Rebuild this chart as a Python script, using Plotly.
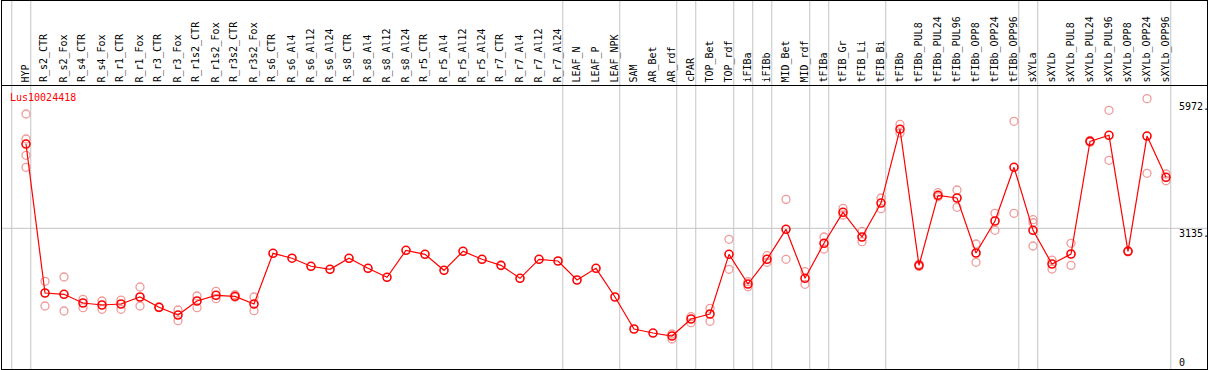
import plotly.graph_objects as go

gene = "Lus10024418"

categories = [
    "HYP", "R_s2_CTR", "R_s2_Fox", "R_s4_CTR", "R_s4_Fox", "R_r1_CTR", "R_r1_Fox",
    "R_r3_CTR", "R_r3_Fox", "R_r1s2_CTR", "R_r1s2_Fox", "R_r3s2_CTR", "R_r3s2_Fox",
    "R_s6_CTR", "R_s6_Al4", "R_s6_Al12", "R_s6_Al24", "R_s8_CTR", "R_s8_Al4",
    "R_s8_Al12", "R_s8_Al24", "R_r5_CTR", "R_r5_Al4", "R_r5_Al12", "R_r5_Al24",
    "R_r7_CTR", "R_r7_Al4", "R_r7_Al12", "R_r7_Al24", "LEAF_N", "LEAF_P", "LEAF_NPK",
    "SAM", "AR_Bet", "AR_rdf", "cPAR", "TOP_Bet", "TOP_rdf", "iFIBa", "iFIBb",
    "MID_Bet", "MID_rdf", "tFIBa", "tFIB_Gr", "tFIB_Li", "tFIB_Bi", "tFIBb",
    "tFIBb_PUL8", "tFIBb_PUL24", "tFIBb_PUL96", "tFIBb_OPP8", "tFIBb_OPP24", "tFIBb_OPP96",
    "sXYLa", "sXYLb", "sXYLb_PUL8", "sXYLb_PUL24", "sXYLb_PUL96", "sXYLb_OPP8",
    "sXYLb_OPP24", "sXYLb_OPP96",
]

means = [
    4979, 1720, 1691, 1501, 1457, 1479, 1632, 1407, 1238, 1545, 1669, 1647, 1479,
    2588, 2481, 2304, 2238, 2479, 2260, 2063, 2654, 2566, 2216, 2632, 2457,
    2325, 2041, 2457, 2420, 2004, 2260, 1632,
    932, 844, 779, 1151, 1260, 2566, 1916, 2457, 3113, 2041, 2807, 3485, 2945, 3688,
    5303, 2325, 3857, 3798, 2595, 3295, 4470,
    3091, 2354, 2573, 5038, 5170, 2632, 5154, 4251,
]

replicates = [
    [5636, 5089, 4732, 4470], [1975, 1435], [2070, 1326], [1582, 1398], [1545, 1363],
    [1566, 1363], [1851, 1435], [1400, 1414], [1348, 1114], [1654, 1398], [1757, 1595],
    [1682, 1625], [1632, 1332],
    [], [], [], [], [], [], [], [], [], [], [], [], [], [], [], [], [], [], [],
    [], [], [823, 713], [1201, 1070], [1385, 1100], [2894, 2238], [1967, 1857],
    [2536, 2391], [3769, 2457], [2186, 1910], [2945, 2682], [3573, 3426], [3069, 2842],
    [3798, 3564], [5410, 5220], [2300, 2350], [3914, 3826], [3973, 3594], [2792, 2391],
    [3463, 3091], [5476, 3463],
    [3323, 3257, 2748], [2441, 2245], [2807, 2325], [5020, 5056], [5717, 4623],
    [2620, 2645], [5972, 4338], [4323, 4176],
]

group_ends = ["HYP", "R_r7_Al24", "LEAF_NPK", "AR_rdf", "cPAR", "TOP_rdf", "iFIBa",
              "iFIBb", "MID_rdf", "tFIBa", "tFIB_Bi", "tFIBb_OPP96", "sXYLa", "sXYLb_OPP96"]

y_max = 5972
y_top = y_max * 1.05
y_mid = y_top / 2

# ---- layout geometry (pixels) ----
W, H = 1209, 370
X0, DX = 26.0, 19.0          # pixel of first category, spacing
Y_TOP_PX, Y_ZERO_PX = 85.0, 371.6
upp = y_top / (Y_ZERO_PX - Y_TOP_PX)   # value units per pixel


def px_x(p):
    return (p - X0) / DX


def px_y(p):
    return (Y_ZERO_PX - p) * upp


xs = list(range(len(categories)))
rep_x, rep_y = [], []
for i, reps in enumerate(replicates):
    for v in reps:
        rep_x.append(i)
        rep_y.append(v)

fig = go.Figure()
fig.add_trace(go.Scatter(
    x=rep_x, y=rep_y, mode="markers",
    marker=dict(symbol="circle-open", size=8, color="#f09a9a", line=dict(width=1.3)),
    hoverinfo="skip", showlegend=False,
))
fig.add_trace(go.Scatter(
    x=xs, y=means, mode="lines+markers",
    line=dict(color="#ff0000", width=1.2),
    marker=dict(symbol="circle-open", size=8, color="#ff0000", line=dict(width=1.6)),
    hoverinfo="skip", showlegend=False,
))

shapes = []
grey = "#c4c4c4"
# vertical group separators
sep_idx = [-1] + [categories.index(c) for c in group_ends]
for k in sep_idx:
    shapes.append(dict(type="line", xref="x", yref="y", x0=k + 0.25, x1=k + 0.25,
                       y0=px_y(0), y1=px_y(369), line=dict(color=grey, width=1), layer="below"))
# mid gridline
shapes.append(dict(type="line", xref="x", yref="y", x0=px_x(1), x1=px_x(1208),
                   y0=y_mid, y1=y_mid, line=dict(color=grey, width=1), layer="below"))
# black frame
blk = dict(color="#000000", width=1)
shapes.append(dict(type="line", x0=px_x(1.5), x1=px_x(1.5), y0=px_y(0), y1=px_y(369.5), line=blk))
shapes.append(dict(type="line", x0=px_x(1207.5), x1=px_x(1207.5), y0=px_y(0), y1=px_y(369.5), line=blk))
shapes.append(dict(type="line", x0=px_x(1), x1=px_x(1208), y0=px_y(0.5), y1=px_y(0.5), line=blk))
shapes.append(dict(type="line", x0=px_x(1), x1=px_x(1208), y0=px_y(85.5), y1=px_y(85.5), line=blk))
shapes.append(dict(type="line", x0=px_x(1), x1=px_x(1208), y0=px_y(369.5), y1=px_y(369.5), line=blk))

font = dict(family="DejaVu Sans Mono", size=10, color="#000000")
ann = []
for i, c in enumerate(categories):
    ann.append(dict(x=i - 0.05, y=px_y(83.5), xref="x", yref="y", text=c, showarrow=False,
                    textangle=-90, xanchor="center", yanchor="bottom", font=font, borderpad=0))
ann.append(dict(x=px_x(9), y=px_y(97), xref="x", yref="y", text=gene, showarrow=False,
                xanchor="left", yanchor="middle", borderpad=0,
                font=dict(family="DejaVu Sans Mono", size=10, color="#ff0000")))
for label, ypx in [(f"{y_max}.", 106), (f"{round(y_mid)}.", 233), ("0", 362)]:
    ann.append(dict(x=px_x(1178), y=px_y(ypx), xref="x", yref="y", text=label, showarrow=False,
                    xanchor="left", yanchor="middle", font=font, borderpad=0))

fig.update_layout(
    width=W, height=H,
    margin=dict(l=0, r=0, t=0, b=0),
    paper_bgcolor="white", plot_bgcolor="white",
    xaxis=dict(range=[px_x(0), px_x(W)], visible=False, fixedrange=True),
    yaxis=dict(range=[px_y(H), px_y(0)], visible=False, fixedrange=True),
    shapes=shapes, annotations=ann, showlegend=False, hovermode=False,
)

fig.write_html(
    "out.html",
    config={"displayModeBar": False},
    post_script="document.body.style.margin='0';document.body.style.padding='0';",
)
